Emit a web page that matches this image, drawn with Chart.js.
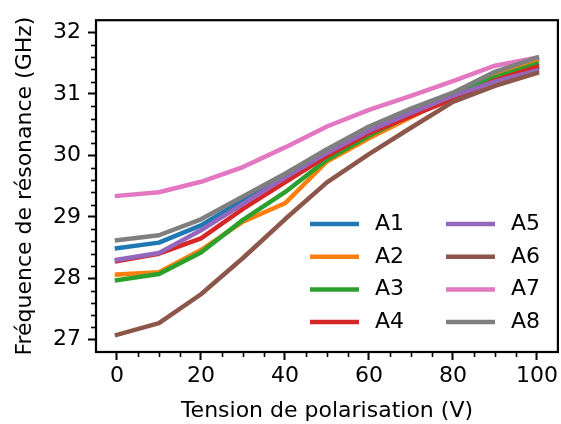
<!DOCTYPE html>
<html>
<head>
<meta charset="utf-8">
<script src="https://cdn.jsdelivr.net/npm/chart.js@4/dist/chart.umd.min.js"></script>
<style>
  html, body { margin: 0; padding: 0; background: #fff; }
  #wrap { width: 561px; height: 424px; }
</style>
</head>
<body>
<div id="wrap"><canvas id="chart" width="561" height="424"></canvas></div>
<script>
// tension de polarisation (V)
const tensions = [0, 10, 20, 30, 40, 50, 60, 70, 80, 90, 100]

// fréquence de résonance (GHz) pour chaque échantillon
const a1 = [28.49, 28.58, 28.86, 29.27, 29.67, 30.08, 30.45, 30.72, 30.98, 31.22, 31.42]
const a2 = [28.06, 28.10, 28.46, 28.92, 29.22, 29.90, 30.28, 30.62, 30.98, 31.34, 31.55]
const a3 = [27.97, 28.07, 28.42, 28.95, 29.40, 29.93, 30.32, 30.66, 31.00, 31.27, 31.49]
const a4 = [28.28, 28.40, 28.65, 29.13, 29.56, 29.99, 30.36, 30.64, 30.92, 31.22, 31.44]
const a5 = [28.30, 28.41, 28.78, 29.21, 29.64, 30.04, 30.40, 30.69, 30.97, 31.20, 31.38]
const a6 = [27.08, 27.27, 27.74, 28.33, 28.96, 29.56, 30.02, 30.45, 30.87, 31.13, 31.34]
const a7 = [29.34, 29.40, 29.57, 29.81, 30.13, 30.47, 30.74, 30.97, 31.21, 31.46, 31.59]
const a8 = [28.62, 28.70, 28.96, 29.33, 29.70, 30.10, 30.47, 30.76, 31.02, 31.36, 31.59]

const series = [a1, a2, a3, a4, a5, a6, a7, a8]
const names = ["A1", "A2", "A3", "A4", "A5", "A6", "A7", "A8"]
const colors = ["#1f77b4", "#ff7f0e", "#2ca02c", "#d62728",
                "#9467bd", "#8c564b", "#e377c2", "#7f7f7f"]

const xTicks = [0, 20, 40, 60, 80, 100]
const yTicks = [27, 28, 29, 30, 31, 32]
const xMinor = [5, 10, 15, 25, 30, 35, 45, 50, 55, 65, 70, 75, 85, 90, 95]
const yMinor = [27.2, 27.4, 27.6, 27.8, 28.2, 28.4, 28.6, 28.8, 29.2, 29.4, 29.6, 29.8,
                30.2, 30.4, 30.6, 30.8, 31.2, 31.4, 31.6, 31.8]

const FONT = "'DejaVu Sans', sans-serif"

const datasets = series.map((vals, i) => ({
  label: names[i],
  data: vals.map((v, j) => ({ x: tensions[j], y: v })),
  borderColor: colors[i],
  backgroundColor: colors[i],
  borderWidth: 4.5,
  borderCapStyle: "square",
  borderJoinStyle: "round",
  pointRadius: 0,
  tension: 0,
  fill: false,
  order: series.length - i   // le dernier tracé passe au-dessus, comme matplotlib
}))

// cadre + petites graduations + légende sur deux colonnes
const cadre = {
  id: "cadre",
  afterDraw(chart) {
    const ctx = chart.ctx
    const a = chart.chartArea
    const sx = chart.scales.x
    const sy = chart.scales.y
    ctx.save()
    ctx.strokeStyle = "#000"
    ctx.lineWidth = 1.6
    xMinor.forEach(v => {
      const px = Math.round(sx.getPixelForValue(v)) + 0.5
      ctx.beginPath(); ctx.moveTo(px, a.bottom); ctx.lineTo(px, a.bottom + 5); ctx.stroke()
    })
    yMinor.forEach(v => {
      const py = Math.round(sy.getPixelForValue(v)) + 0.5
      ctx.beginPath(); ctx.moveTo(a.left, py); ctx.lineTo(a.left - 5, py); ctx.stroke()
    })
    ctx.lineWidth = 2.2
    ctx.strokeRect(a.left, a.top, a.right - a.left, a.bottom - a.top)

    // légende
    ctx.font = "22px " + FONT
    ctx.textBaseline = "alphabetic"
    ctx.textAlign = "left"
    ctx.lineCap = "butt"
    names.forEach((n, i) => {
      const col = Math.floor(i / 4)
      const row = i % 4
      const x0 = 310 + col * 136
      const y0 = 224 + row * 32.7
      ctx.strokeStyle = colors[i]
      ctx.lineWidth = 4.5
      ctx.beginPath(); ctx.moveTo(x0, y0); ctx.lineTo(x0 + 49, y0); ctx.stroke()
      ctx.fillStyle = "#000"
      ctx.fillText(n, x0 + 65, y0 + 6)
    })
    ctx.restore()
  }
}

const ctxChart = document.querySelector("#chart").getContext("2d")

const chart = new Chart(ctxChart, {
  type: "line",
  data: { datasets: datasets },
  options: {
    responsive: false,
    animation: false,
    devicePixelRatio: 1,
    layout: { padding: { left: 0, top: 16, right: 2, bottom: 0 } },
    plugins: { legend: { display: false }, tooltip: { enabled: false } },
    scales: {
      x: {
        type: "linear",
        min: -5,
        max: 105,
        afterBuildTicks: s => { s.ticks = xTicks.map(v => ({ value: v })) },
        afterFit: s => { s.height = 72 },
        border: { display: false },
        grid: { drawOnChartArea: false, drawTicks: true, tickLength: 8, tickWidth: 2, tickColor: "#000" },
        ticks: { color: "#000", font: { family: FONT, size: 22 }, padding: 3, maxRotation: 0, autoSkip: false },
        title: {
          display: true,
          text: "Tension de polarisation (V)",
          color: "#000",
          font: { family: FONT, size: 22 },
          padding: { top: 0, bottom: 0 }
        }
      },
      y: {
        type: "linear",
        min: 26.8,
        max: 32.2,
        afterBuildTicks: s => { s.ticks = yTicks.map(v => ({ value: v })) },
        afterFit: s => { s.width = 96 },
        border: { display: false },
        grid: { drawOnChartArea: false, drawTicks: true, tickLength: 8, tickWidth: 2, tickColor: "#000" },
        ticks: { color: "#000", font: { family: FONT, size: 22 }, padding: 7, autoSkip: false },
        title: {
          display: true,
          text: "Fréquence de résonance (GHz)",
          color: "#000",
          font: { family: FONT, size: 22 },
          padding: { top: 12, bottom: 0 }
        }
      }
    }
  },
  plugins: [cadre]
})
</script>
</body>
</html>
